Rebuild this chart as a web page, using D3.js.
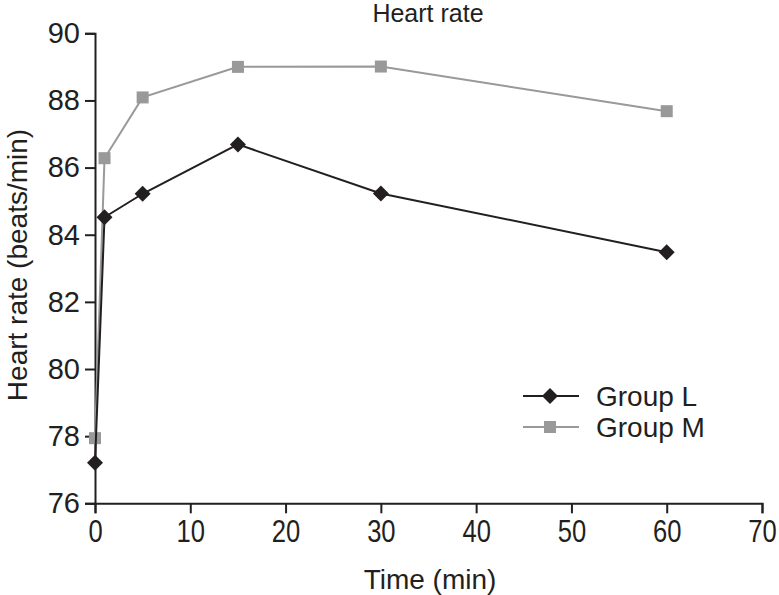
<!DOCTYPE html>
<html><head><meta charset="utf-8">
<script src="https://cdn.jsdelivr.net/npm/d3@7"></script>
<style>body{margin:0;background:#fff;} text{font-family:"Liberation Sans",Arial,sans-serif;fill:#231f20;}</style>
</head><body>
<svg id="c" width="779" height="595"></svg>
<script>
const times = [0, 1, 5, 15, 30, 60];
const groupL = [77.21, 84.52, 85.22, 86.69, 85.23, 83.48];
const groupM = [77.94, 86.28, 88.09, 89.00, 89.01, 87.68];
const xTicks = [0, 10, 20, 30, 40, 50, 60, 70];
const yTicks = [76, 78, 80, 82, 84, 86, 88, 90];
const seriesNames = ["Group L", "Group M"];

const svg = d3.select("#c");
const x = d3.scaleLinear().domain([0, 70]).range([95, 762]);
const y = d3.scaleLinear().domain([76, 90]).range([503.3, 33.3]);
const axisColor = "#231f20";
const FONT = "Liberation Sans";

// axes
const xa = svg.append("g").attr("transform", "translate(0,503.3)")
  .call(d3.axisBottom(x).tickValues(xTicks).tickSize(10).tickPadding(4));
xa.select(".domain").attr("stroke", axisColor).attr("stroke-width", 2);
xa.selectAll(".tick line").attr("stroke", axisColor).attr("stroke-width", 2);
xa.selectAll(".tick text").attr("font-size", 32).attr("font-family", FONT).attr("fill", axisColor)
  .attr("dy", null).attr("y", 39).attr("transform", "scale(0.8,1)").attr("x", 0);

const ya = svg.append("g").attr("transform", "translate(95,0)")
  .call(d3.axisLeft(y).tickValues(yTicks).tickSize(10).tickPadding(5));
ya.select(".domain").attr("stroke", axisColor).attr("stroke-width", 2);
ya.selectAll(".tick line").attr("stroke", axisColor).attr("stroke-width", 2);
ya.selectAll(".tick text").attr("font-size", 29).attr("font-family", FONT).attr("fill", axisColor);

// titles
svg.append("text").attr("x", 428).attr("y", 22).attr("text-anchor", "middle").attr("font-size", 25).text("Heart rate");
svg.append("text").attr("x", 430).attr("y", 589).attr("text-anchor", "middle").attr("font-size", 28).text("Time (min)");
svg.append("text").attr("transform", "translate(26.5,265) rotate(-90)").attr("text-anchor", "middle").attr("font-size", 28).text("Heart rate (beats/min)");

const line = d3.line().x((d, i) => x(times[i])).y(d => y(d));
const colors = ["#231f20", "#999999"];

function diamond(g, cx, cy, r, c) {
  g.append("path").attr("d", `M${cx},${cy - r}L${cx + r},${cy}L${cx},${cy + r}L${cx - r},${cy}Z`).attr("fill", c);
}
function square(g, cx, cy, s, c) {
  g.append("rect").attr("x", cx - s / 2).attr("y", cy - s / 2).attr("width", s).attr("height", s).attr("fill", c);
}

// Group M
svg.append("path").datum(groupM).attr("d", line).attr("fill", "none").attr("stroke", colors[1]).attr("stroke-width", 2);
const gm = svg.append("g");
groupM.forEach((v, i) => square(gm, x(times[i]), y(v), 12, colors[1]));
// Group L
svg.append("path").datum(groupL).attr("d", line).attr("fill", "none").attr("stroke", colors[0]).attr("stroke-width", 2);
const gl = svg.append("g");
groupL.forEach((v, i) => diamond(gl, x(times[i]), y(v), 8, colors[0]));

// legend
const lg = svg.append("g");
[0, 1].forEach(k => {
  const ly = 396 + k * 31;
  lg.append("line").attr("x1", 523).attr("x2", 579).attr("y1", ly).attr("y2", ly).attr("stroke", colors[k]).attr("stroke-width", 2);
  if (k === 0) diamond(lg, 550, ly, 8, colors[0]); else square(lg, 550, ly, 12, colors[1]);
  lg.append("text").attr("x", 596).attr("y", ly + 10).attr("font-size", 28).text(seriesNames[k]);
});
</script>
</body></html>
